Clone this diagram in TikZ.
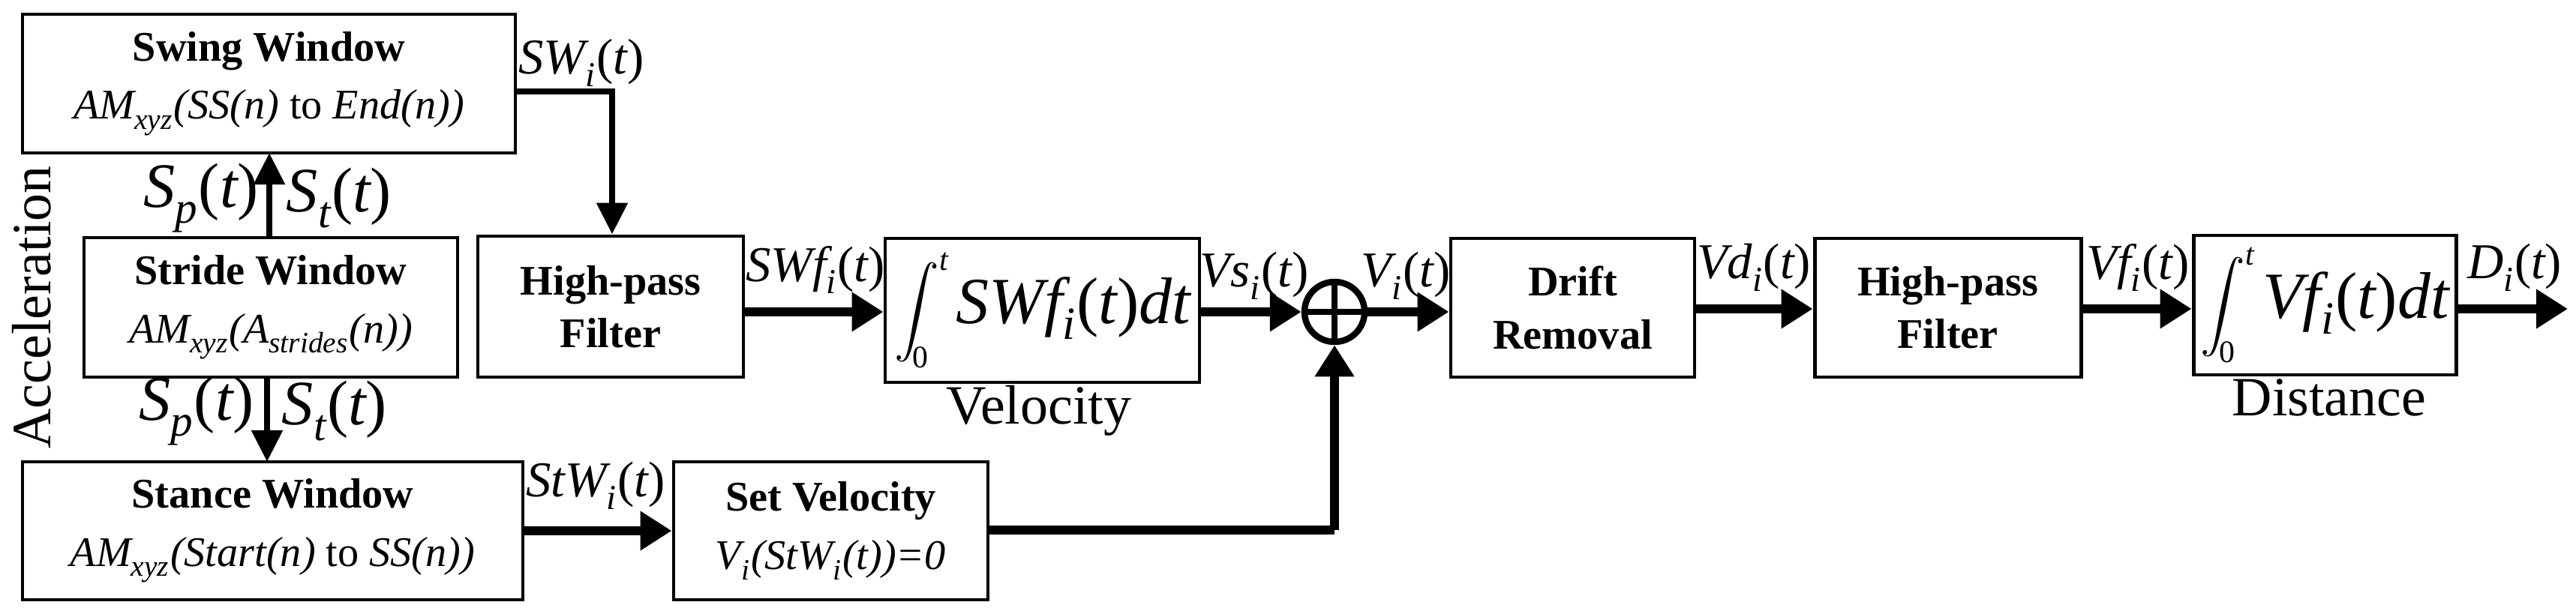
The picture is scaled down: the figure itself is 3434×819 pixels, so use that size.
\documentclass[tikz,border=0pt]{standalone}
\usepackage{fontspec}
\usepackage{unicode-math}
\setmainfont{Liberation Serif}
\setmathfont{Latin Modern Math}
\setmathfont[range=it/{latin,Latin}]{Liberation Serif Italic}
\setmathfont[range={up/num,"28,"29}]{Liberation Serif}
\usetikzlibrary{arrows.meta}
\begin{document}
\begin{tikzpicture}[x=0.01cm,y=-0.01cm,
  box/.style={draw,line width=1.4pt,inner sep=0pt,align=center,font=\fontsize{16}{20}\selectfont},
  big/.style={-{Triangle[length=0.42cm,width=0.5cm]},line width=3.6pt},
  thin/.style={-{Triangle[length=0.42cm,width=0.4cm]},line width=2.4pt},
  lab/.style={font=\fontsize{19}{20}\selectfont},
  slab/.style={font=\fontsize{24}{26}\selectfont}]
\useasboundingbox (0,0) rectangle (3434,819);
\newcommand{\boxat}[6]{\node[box,minimum width=#4*0.01cm-#2*0.01cm,minimum height=#5*0.01cm-#3*0.01cm] (#1) at ({(#2+#4)/2},{(#3+#5)/2}) {#6};}
\newcommand{\myint}[1]{{\fontsize{17}{18}\selectfont$\displaystyle\int_0^t$}\,{\fontsize{25}{26}\selectfont$#1$}}
\boxat{swing}{30}{19}{687}{204}{\textbf{Swing Window}\\[2pt]\textit{AM\textsubscript{xyz}(SS(n)} to \textit{End(n))}}
\boxat{stride}{112}{317}{610}{503}{\textbf{Stride Window}\\[2pt]\textit{AM\textsubscript{xyz}(A\textsubscript{strides}(n))}}
\boxat{stance}{30}{616}{697}{800}{\textbf{Stance Window}\\[2pt]\textit{AM\textsubscript{xyz}(Start(n)} to \textit{SS(n))}}
\boxat{hpf1}{637}{315}{991}{503}{\textbf{High-pass}\\\textbf{Filter}}
\boxat{int1}{1180}{318}{1599}{510}{\myint{SWf_i(t)dt}}
\boxat{setv}{898}{616}{1317}{800}{\textbf{Set Velocity}\\[2pt]\textit{V\textsubscript{i}(StW\textsubscript{i}(t))=0}}
\boxat{drift}{1934}{318}{2259}{503}{\textbf{Drift}\\\textbf{Removal}}
\boxat{hpf2}{2419}{318}{2774}{503}{\textbf{High-pass}\\\textbf{Filter}}
\boxat{int2}{2924}{314}{3274}{500}{\myint{Vf_i(t)dt}}
\node[draw,circle,line width=2.4pt,minimum size=0.8cm,inner sep=0pt] (sum) at (1779,416) {};
\draw[line width=2.4pt] (sum.north) -- (sum.south) (sum.west) -- (sum.east);
\coordinate (end) at (3423,412);
\coordinate (c1) at (816,122);
\coordinate (c2) at (1779,707);
% connectors
\draw[thin] (swing.east |- c1) -- (c1) -- (c1 |- hpf1.north);
\draw[thin] (359,317) -- (359,204);
\draw[thin] (356,503) -- (356,616);
\draw[big] (stance.east |- setv) -- (setv.west);
\draw[line width=3.6pt] (setv.east |- c2) -- (c2);
\draw[big] (c2) -- (sum.south);
\draw[big] (hpf1.east |- 0,416) -- (int1.west |- 0,416);
\draw[big] (int1.east |- 0,416) -- (sum.west);
\draw[big] (sum.east) -- (drift.west |- 0,416);
\draw[big] (drift.east |- 0,412) -- (hpf2.west |- 0,412);
\draw[big] (hpf2.east |- 0,412) -- (int2.west |- 0,412);
\draw[big] (int2.east |- 0,412) -- (end);
% labels
\node[lab] (l1) at (775,84) {$SW_i(t)$};
\node[slab] (l2) at (268,264) {$S_p(t)$};
\node[slab] (l3) at (452,264) {$S_t(t)$};
\node[slab] (l4) at (262,548) {$S_p(t)$};
\node[slab] (l5) at (446,548) {$S_t(t)$};
\node[lab] (l6) at (794,648) {$StW_i(t)$};
\node[lab] (l7) at (1087,360) {$SWf_i(t)$};
\node[lab] (l8) at (1672,368) {$Vs_i(t)$};
\node[lab] (l9) at (1874,368) {$V_i(t)$};
\node[lab] (l10) at (2338,357) {$Vd_i(t)$};
\node[lab] (l11) at (2850,357) {$Vf_i(t)$};
\node[lab] (l12) at (3352,357) {$D_i(t)$};
\node[font=\fontsize{21}{24}\selectfont] (vel) at (1385,548) {Velocity};
\node[font=\fontsize{21}{24}\selectfont] (dist) at (3105,530) {Distance};
\node[font=\fontsize{21}{24}\selectfont,rotate=90] (acc) at (42,410) {Acceleration};
\end{tikzpicture}
\end{document}
